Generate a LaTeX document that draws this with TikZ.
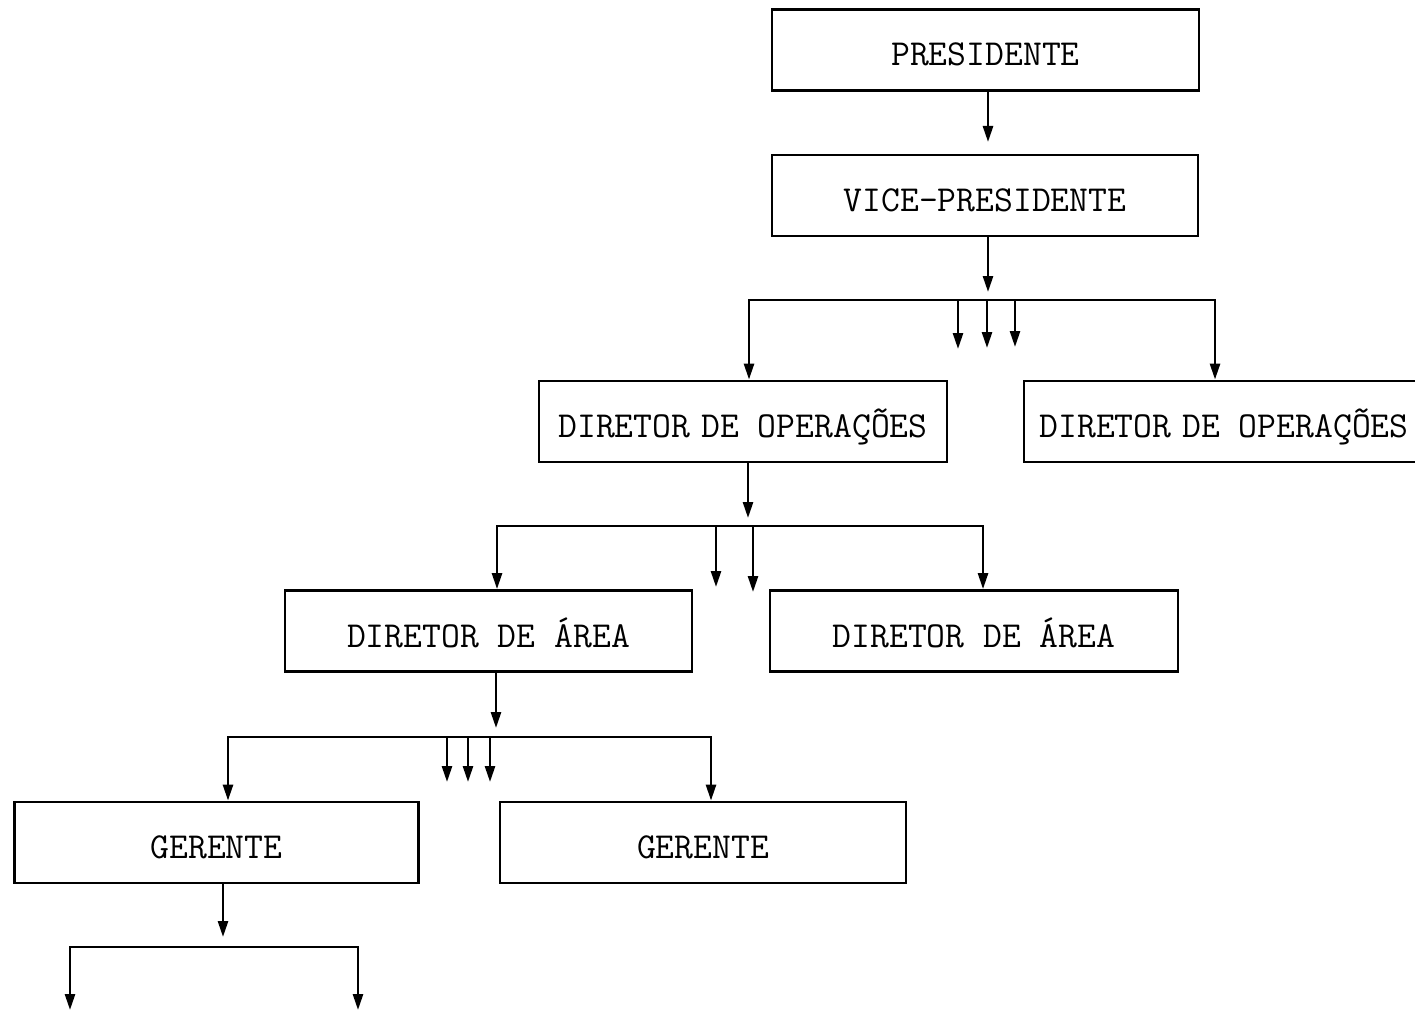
\documentclass[tikz,border=0pt]{standalone}
\usepackage{fontspec}
\usetikzlibrary{arrows.meta}
\begin{document}
\begin{tikzpicture}[x=1pt,y=-1pt,
  box/.style={draw, line width=2.8pt, inner sep=0pt, minimum height=81pt,
    text height=32pt, text depth=0pt, font=\ttfamily\fontsize{36.6}{40}\selectfont},
  arr/.style={line width=2.6pt, -{Triangle[length=16pt,width=10pt]}},
  bar/.style={line width=2.6pt, line cap=rect}]
\clip (0,0) rectangle (1415,1011);
\fill[white] (0,0) rectangle (1415,1011);

% boxes
\node[box, minimum width=427pt] (pres) at (985.5,50) {PRESIDENTE};
\node[box, minimum width=426pt] (vp) at (985,195.5) {VICE-PRESIDENTE\hspace{20pt}};
\node[box, minimum width=408pt] (dop1) at (743,421.5) {DIRETOR\kern0.3em DE OPERAÇÕES};
\node[box, minimum width=400pt] (dop2) at (1224,421.5) {DIRETOR\kern0.3em DE OPERAÇÕES};
\node[box, minimum width=407pt] (da1) at (488.5,631) {DIRETOR DE ÁREA};
\node[box, minimum width=408pt] (da2) at (974,631) {DIRETOR DE ÁREA};
\node[box, minimum width=404pt] (g1) at (216.5,842.5) {GERENTE};
\node[box, minimum width=406pt] (g2) at (703,842.5) {GERENTE};

% coordinates
\coordinate (c1) at (988,142);
\coordinate (c2) at (988,292);
\coordinate (b1L) at (749,300);
\coordinate (b1R) at (1215,300);
\coordinate (s1a) at (958,349);
\coordinate (s1b) at (987,348);
\coordinate (s1c) at (1015,347);

\coordinate (c3) at (748,518);
\coordinate (b2L) at (497,526);
\coordinate (b2R) at (983,526);
\coordinate (s2a) at (716,587);
\coordinate (s2b) at (753,592);

\coordinate (c4) at (496,728);
\coordinate (b3L) at (228,737);
\coordinate (b3R) at (711,737);
\coordinate (s3a) at (447,782);
\coordinate (s3b) at (468,782);
\coordinate (s3c) at (490,782);

\coordinate (c5) at (223,937);
\coordinate (b4L) at (70,947);
\coordinate (b4R) at (358,947);
\coordinate (e4L) at (70,1010);
\coordinate (e4R) at (358,1010);

% level 1
\draw[arr] (pres.south -| c1) -- (c1);
\draw[arr] (vp.south -| c2) -- (c2);
\draw[bar] (b1L) -- (b1R);
\draw[arr] (b1L) -- (b1L |- dop1.north);
\draw[arr] (b1R) -- (b1R |- dop2.north);
\draw[arr] (s1a |- b1L) -- (s1a);
\draw[arr] (s1b |- b1L) -- (s1b);
\draw[arr] (s1c |- b1L) -- (s1c);

% level 2
\draw[arr] (dop1.south -| c3) -- (c3);
\draw[bar] (b2L) -- (b2R);
\draw[arr] (b2L) -- (b2L |- da1.north);
\draw[arr] (b2R) -- (b2R |- da2.north);
\draw[arr] (s2a |- b2L) -- (s2a);
\draw[arr] (s2b |- b2L) -- (s2b);

% level 3
\draw[arr] (da1.south -| c4) -- (c4);
\draw[bar] (b3L) -- (b3R);
\draw[arr] (b3L) -- (b3L |- g1.north);
\draw[arr] (b3R) -- (b3R |- g2.north);
\draw[arr] (s3a |- b3L) -- (s3a);
\draw[arr] (s3b |- b3L) -- (s3b);
\draw[arr] (s3c |- b3L) -- (s3c);

% level 4
\draw[arr] (g1.south -| c5) -- (c5);
\draw[bar] (b4L) -- (b4R);
\draw[arr] (b4L) -- (e4L);
\draw[arr] (b4R) -- (e4R);
\end{tikzpicture}
\end{document}
